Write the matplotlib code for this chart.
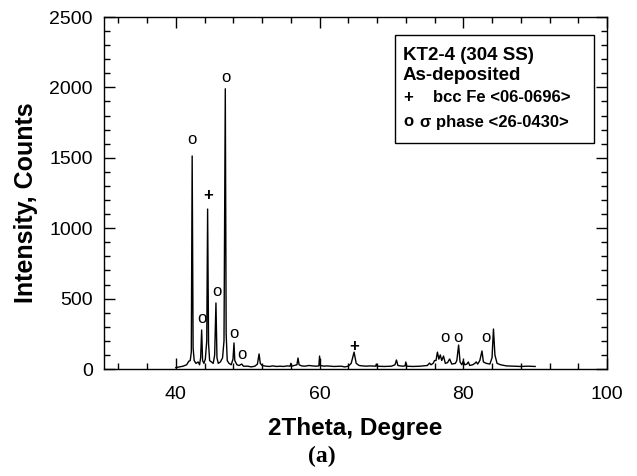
import matplotlib
matplotlib.use('Agg')
import matplotlib.pyplot as plt
from matplotlib.ticker import MultipleLocator

# XRD trace: 2theta (deg), intensity (counts)
two_theta = [40.0, 40.5, 41.0, 41.5, 41.8, 42.0, 42.15, 42.27, 42.4, 42.55,
             42.8, 43.1, 43.3, 43.45, 43.59, 43.72, 43.9, 44.1, 44.3, 44.42,
             44.55, 44.7, 44.95, 45.2, 45.4, 45.58, 45.72, 45.9, 46.2, 46.5,
             46.7, 46.88, 47.0, 47.15, 47.4, 47.7, 47.95, 48.09, 48.2, 48.5,
             48.8, 49.17, 49.4, 50.0, 50.5, 51.0, 51.35, 51.58, 51.75, 52.0,
             52.5, 53.0, 53.5, 54.0, 54.5, 55.0, 55.5, 55.9, 56.0, 56.1,
             56.5, 56.85, 57.0, 57.15, 57.5, 58.0, 58.5, 59.0, 59.5, 59.9,
             60.0, 60.1, 60.6, 61.0, 62.0, 63.0, 63.5, 64.0, 64.4, 64.8,
             65.1, 65.5, 66.0, 66.5, 67.0, 67.8, 67.9, 68.0, 69.0, 70.0,
             70.5, 70.7, 70.9, 71.5, 71.9, 72.0, 72.1, 73.0, 74.0, 75.0,
             75.3, 75.5, 75.8, 76.0, 76.2, 76.4, 76.6, 76.8, 77.0, 77.25,
             77.5, 77.8, 78.1, 78.4, 78.9, 79.1, 79.35, 79.55, 79.8, 80.0,
             80.2, 80.5, 80.7, 80.9, 81.3, 81.6, 81.8, 82.0, 82.3, 82.6,
             82.8, 83.2, 83.7, 84.0, 84.2, 84.4, 84.7, 85.2, 86.0, 87.0,
             88.0, 89.0, 90.0]
counts = [10, 15, 20, 30, 55, 60, 120, 1513, 150, 60,
          40, 50, 30, 80, 277, 60, 40, 70, 200, 1136,
          180, 60, 50, 40, 100, 469, 80, 40, 50, 80,
          200, 1990, 250, 60, 40, 30, 70, 185, 60, 30,
          25, 35, 20, 20, 15, 20, 35, 107, 40, 25,
          20, 18, 22, 18, 20, 18, 22, 20, 40, 20,
          25, 30, 78, 30, 22, 20, 25, 22, 20, 22,
          92, 25, 20, 22, 18, 20, 15, 20, 40, 120,
          40, 25, 22, 20, 22, 20, 35, 20, 18, 20,
          30, 64, 25, 20, 22, 50, 20, 18, 20, 25,
          42, 30, 40, 60, 60, 120, 70, 100, 60, 92,
          40, 45, 71, 35, 40, 60, 170, 50, 30, 57,
          30, 35, 50, 25, 30, 40, 50, 35, 60, 128,
          50, 40, 35, 80, 284, 100, 40, 30, 22, 20,
          18, 20, 18]

# peak markers
mark_x = [42.2, 46.95, 44.45, 43.6, 45.7, 48.1, 49.2, 64.8, 77.4, 79.3, 83.1]
mark_y = [1630, 2070, 1230, 360, 550, 255, 100, 160, 225, 225, 225]
mark_sym = ['o', 'o', '+', 'o', 'o', 'o', 'o', '+', 'o', 'o', 'o']

legend_lines = ['KT2-4 (304 SS)', 'As-deposited']
phase_sym = ['+', 'o']
phase_names = ['bcc Fe <06-0696>', '\u03c3 phase <26-0430>']

plt.rcParams['font.family'] = ['Liberation Sans', 'DejaVu Sans']

fig = plt.figure(figsize=(6.37, 4.76), dpi=100)
ax = fig.add_axes([104 / 637, 1 - 369 / 476, 503 / 637, 352 / 476])

ax.plot(two_theta, counts, color='black', lw=1.0)
for x, y, s in zip(mark_x, mark_y, mark_sym):
    ax.text(x, y, s, ha='center', va='center', fontsize=12,
            fontweight='bold' if s == '+' else 'normal')

ax.set_xlim(30, 100)
ax.set_ylim(0, 2500)
ax.xaxis.set_major_locator(MultipleLocator(20))
ax.xaxis.set_minor_locator(MultipleLocator(4))
ax.yaxis.set_major_locator(MultipleLocator(500))
ax.yaxis.set_minor_locator(MultipleLocator(100))
ax.tick_params(which='both', direction='in', top=True, right=True,
               labelsize=14, width=1)
ax.tick_params(which='major', length=8, pad=8)
ax.tick_params(axis='x', which='major', pad=12)
ax.tick_params(which='minor', length=4.5)
for sp in ax.spines.values():
    sp.set_linewidth(1)

ax.set_xlabel('2Theta, Degree', fontsize=17.5, fontweight='bold')
ax.set_ylabel('Intensity, Counts', fontsize=18, fontweight='bold')
ax.xaxis.label.set_va('center')
ax.yaxis.label.set_va('center')
ax.xaxis.set_label_coords(0.5, (369 - 429) / 352)
ax.yaxis.set_label_coords((26 - 104) / 503, (369 - 203) / 352)

# legend box
box = plt.Rectangle((395 / 637, 1 - 143 / 476), 199 / 637, 108 / 476,
                    transform=fig.transFigure, fill=False, lw=1, color='black')
fig.add_artist(box)
fig.text(403 / 637, 1 - 55 / 476, legend_lines[0], fontsize=13.5,
         fontweight='bold', va='center')
fig.text(403 / 637, 1 - 76 / 476, legend_lines[1], fontsize=13.5,
         fontweight='bold', va='center')
fig.text(403 / 637, 1 - 98 / 476, phase_sym[0], fontsize=12,
         fontweight='bold', va='center')
fig.text(433 / 637, 1 - 98 / 476, phase_names[0], fontsize=12,
         fontweight='bold', va='center')
fig.text(403 / 637, 1 - 122 / 476, phase_sym[1], fontsize=12,
         fontweight='bold', va='center')
fig.text(420 / 637, 1 - 122 / 476, phase_names[1], fontsize=12,
         fontweight='bold', va='center')

fig.text(322 / 637, 1 - 456 / 476, '(a)', fontsize=17, fontweight='bold',
         family='Liberation Serif', ha='center', va='center')

fig.savefig('out.png', dpi=100)
